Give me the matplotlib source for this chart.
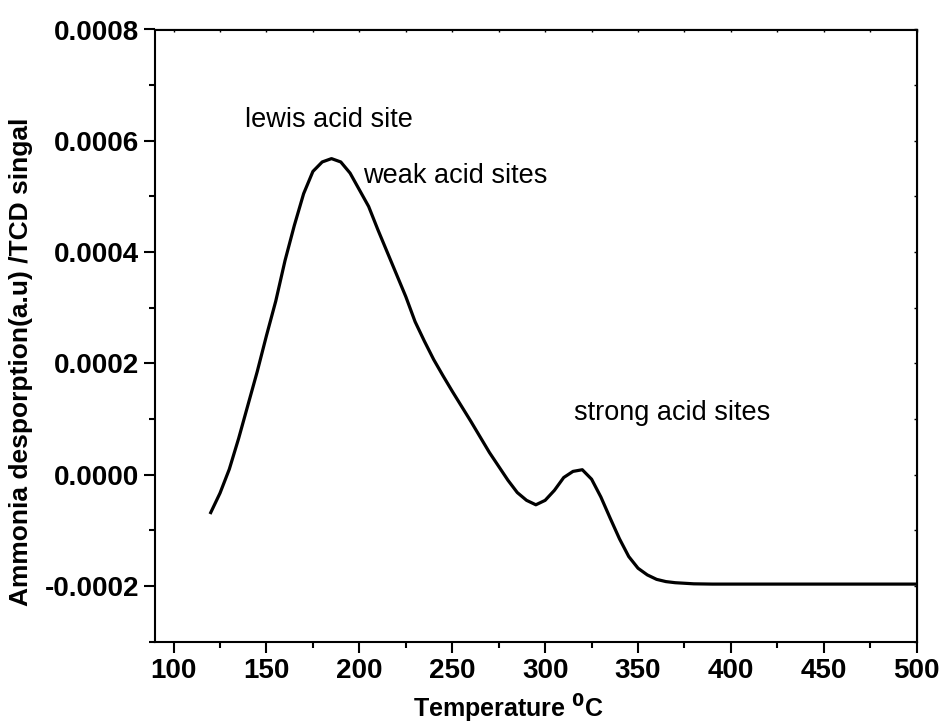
import numpy as np
import matplotlib.pyplot as plt
from matplotlib.ticker import MultipleLocator, FormatStrFormatter

plt.rcParams['font.family'] = ['Liberation Sans', 'DejaVu Sans']

temp = [120, 125, 130, 135, 140, 145, 150, 155, 160, 165, 170, 175, 180, 185,
        190, 195, 200, 205, 210, 215, 220, 225, 230, 235, 240, 245, 250, 255,
        260, 265, 270, 275, 280, 285, 290, 295, 300, 305, 310, 315, 320, 325,
        330, 335, 340, 345, 350, 355, 360, 365, 370, 375, 380, 390, 400, 420,
        440, 460, 480, 500]
signal = [-6.8e-5, -3.3e-5, 1.0e-5, 6.5e-5, 1.25e-4, 1.85e-4, 2.5e-4, 3.12e-4,
          3.85e-4, 4.48e-4, 5.05e-4, 5.45e-4, 5.62e-4, 5.68e-4, 5.62e-4,
          5.42e-4, 5.12e-4, 4.82e-4, 4.4e-4, 4.0e-4, 3.6e-4, 3.2e-4, 2.75e-4,
          2.4e-4, 2.07e-4, 1.78e-4, 1.5e-4, 1.23e-4, 9.6e-5, 6.8e-5, 4.0e-5,
          1.5e-5, -1.0e-5, -3.2e-5, -4.6e-5, -5.4e-5, -4.6e-5, -2.8e-5, -5e-6,
          6e-6, 9e-6, -8e-6, -4.0e-5, -7.8e-5, -1.15e-4, -1.47e-4, -1.68e-4,
          -1.8e-4, -1.88e-4, -1.92e-4, -1.94e-4, -1.95e-4, -1.96e-4, -1.965e-4,
          -1.965e-4, -1.965e-4, -1.965e-4, -1.965e-4, -1.965e-4, -1.965e-4]

fig = plt.figure(figsize=(9.46, 7.28), dpi=100)
ax = fig.add_axes([155/946, 1-641.7/728, (916.7-155)/946, (641.7-29.5)/728])

ax.plot(temp, signal, color='black', lw=2.3)

ax.set_xlim(90, 500)
ax.set_ylim(-0.0003, 0.0008)
ax.xaxis.set_major_locator(MultipleLocator(50))
ax.xaxis.set_minor_locator(MultipleLocator(25))
ax.yaxis.set_major_locator(MultipleLocator(0.0002))
ax.yaxis.set_minor_locator(MultipleLocator(0.0001))
ax.yaxis.set_major_formatter(FormatStrFormatter('%.4f'))

for s in ax.spines.values():
    s.set_linewidth(1.5)

ax.tick_params(which='both', direction='out', width=1.5, top=False, right=False,
               labelsize=20)
ax.tick_params(which='major', length=8)
ax.tick_params(which='minor', length=4.5)
for lab in ax.get_xticklabels() + ax.get_yticklabels():
    lab.set_fontweight('bold')

# small inward ticks on top/right spines
ax2 = ax.secondary_xaxis('top')
ax2.xaxis.set_major_locator(MultipleLocator(25))
ax2.tick_params(direction='in', length=2, width=1, labeltop=False)
ax3 = ax.secondary_yaxis('right')
ax3.yaxis.set_major_locator(MultipleLocator(0.0001))
ax3.tick_params(direction='in', length=2, width=1, labelright=False)

ax.set_xlabel('Temperature $^{\\mathbf{0}}$C', fontsize=18, fontweight='bold')
ax.xaxis.set_label_coords((508.5-155)/761.7, -0.083)
ax.set_ylabel('Ammonia desporption(a.u) /TCD singal', fontsize=19,
              fontweight='bold')
ax.yaxis.set_label_coords((33-155)/761.7, (728-361.5-86.3)/612.2)

ax.text(138.5, 0.000638, 'lewis acid site', fontsize=19.5, va='center')
ax.text(202, 0.000536, 'weak acid sites', fontsize=19.5, va='center')
ax.text(315.5, 0.000111, 'strong acid sites', fontsize=19.5, va='center')

fig.savefig('out.png', dpi=100)
